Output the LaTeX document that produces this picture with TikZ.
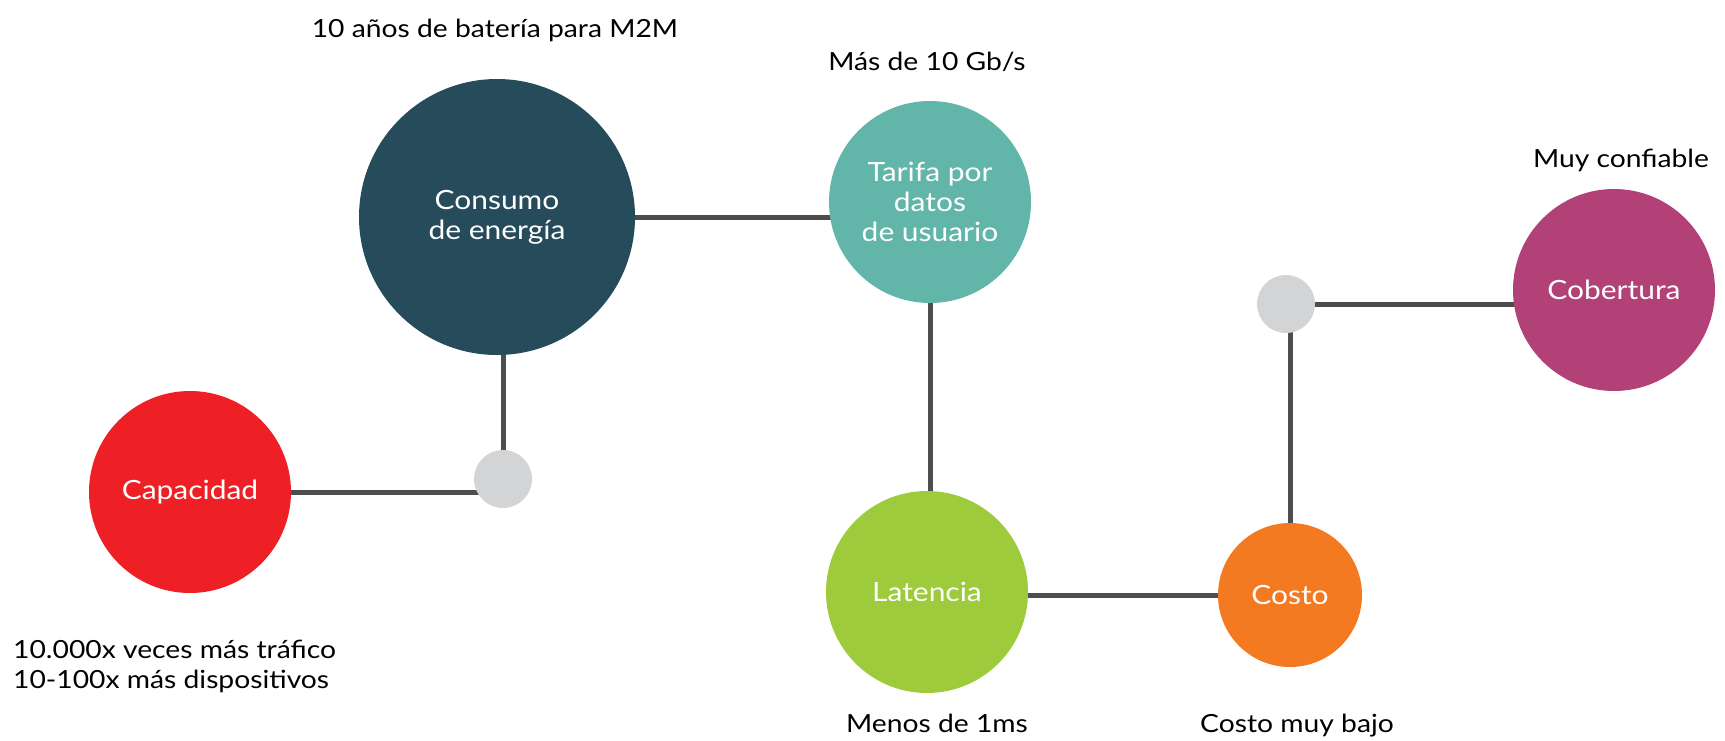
\documentclass[tikz,border=0pt]{standalone}
\usepackage{fontspec}
\setmainfont[FakeStretch=1.13]{Lato}
\usetikzlibrary{backgrounds}

\definecolor{capacidad}{HTML}{EE2025}
\definecolor{energia}{HTML}{264B5B}
\definecolor{tarifa}{HTML}{61B6A9}
\definecolor{latencia}{HTML}{9ECB3C}
\definecolor{costo}{HTML}{F47A22}
\definecolor{cobertura}{HTML}{B14177}
\definecolor{jointgray}{HTML}{D3D4D6}
\definecolor{linkgray}{HTML}{4D4D4D}

\begin{document}
\begin{tikzpicture}[x=1pt, y=-1pt,
  bubble/.style={circle, text=white, align=center, inner sep=0pt,
    font=\fontsize{26.5}{30}\selectfont},
  joint/.style={circle, fill=jointgray, minimum size=58pt, inner sep=0pt},
  link/.style={draw=linkgray, line width=5pt},
  note/.style={inner sep=0pt, font=\fontsize{25}{30}\selectfont}]

\useasboundingbox (0,0) rectangle (1725,740);

%%%%%%%%%%%% Circles
\node[bubble, fill=capacidad, minimum size=202pt] (cap) at (190,492) {Capacidad};
\node[bubble, fill=energia, minimum size=276pt] (cons) at (497,217) {Consumo\\de energía};
\node[bubble, fill=tarifa, minimum size=202pt] (tar) at (930,202) {Tarifa por\\datos\\de usuario};
\node[bubble, fill=latencia, minimum size=202pt] (lat) at (927,592) {Latencia};
\node[bubble, fill=costo, minimum size=144pt] (cost) at (1290,595) {Costo};
\node[bubble, fill=cobertura, minimum size=202pt] (cob) at (1614,290) {Cobertura};
\node[joint] (jA) at (503,479) {};
\node[joint] (jB) at (1286,304) {};

%%%%%%%%%%%% Links
\begin{scope}[on background layer]
  \draw[link] (cap) -- (cap -| jA);
  \draw[link] (jA) -- (jA |- cons);
  \draw[link] (cons) -- (cons -| tar);
  \draw[link] (tar) -- (tar |- lat);
  \draw[link] (cost) -- (cost -| lat);
  \draw[link] (cost) -- (cost |- jB);
  \draw[link] (jB) -- (jB -| cob);
\end{scope}

%%%%%%%%%%%% Notes
\node[note, anchor=base] (bateria) at (495,37) {10 años de batería para M2M};
\node[note, anchor=base] (velocidad) at (927,70) {Más de 10 Gb/s};
\node[note, anchor=base] (fiable) at (1621,167) {Muy confiable};
\node[note, anchor=north west, align=left] (trafico) at (13,640)
  {10.000x veces más tráfico\\10-100x más dispositivos};
\node[note, anchor=base] (retardo) at (937,732) {Menos de 1ms};
\node[note, anchor=base] (precio) at (1297,732) {Costo muy bajo};
\end{tikzpicture}
\end{document}
